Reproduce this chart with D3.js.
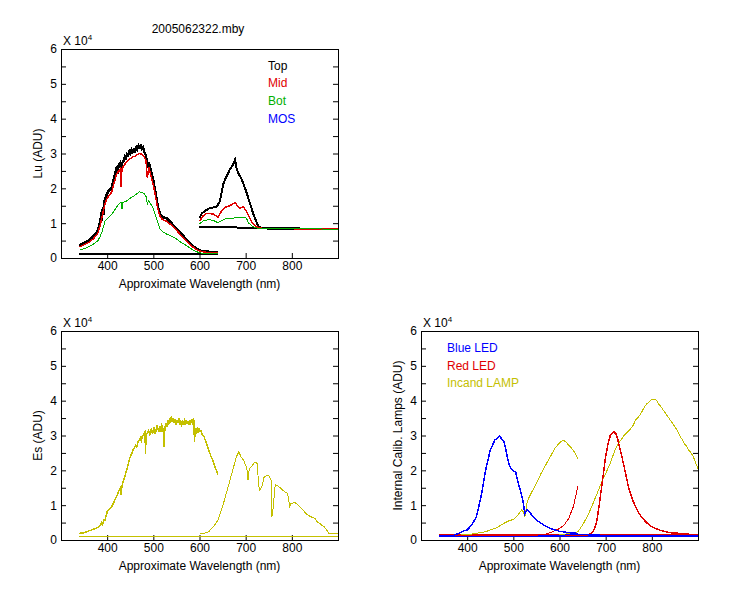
<!DOCTYPE html>
<html>
<head>
<meta charset="utf-8">
<style>
body { margin: 0; background: #fff; }
svg { font-family: "Liberation Sans", Arial, sans-serif; }
.axis .domain { display: none; }
.axis text { font-size: 12px; fill: #000; }
.axis line { stroke: #000; }
.trace { fill: none; shape-rendering: crispEdges; }
</style>
</head>
<body>
<svg width="750" height="600"></svg>
<script src="https://d3js.org/d3.v7.min.js"></script>
<script>

// ---- data (values in units of 10^4 ADU, wavelength in nm) ----
var title = "2005062322.mby";
var xTicks = [400, 500, 600, 700, 800];
var yTicks = [0, 1, 2, 3, 4, 5, 6];
var yMinor = [0.5, 1.5, 2.5, 3.5, 4.5, 5.5];

var luLegend = ["Top", "Mid", "Bot", "MOS"];
var luColors = ["#000000", "#e00000", "#00b000", "#0000ff"];

var luTop1 = [[340,.36],[345,.4],[350,.43],[355,.47],[360,.5],[365,.56],[370,.62],[375,.7],[380,.8],[383,.95],[385,1.08],[387,1.0],[388,1.3],[390,1.37],[392,1.25],[393,1.6],[395,1.66],[398,1.8],[400,1.85],[403,1.92],[405,1.95],[408,2.0],[410,2.04],[413,2.2],[415,2.3],[418,2.45],[420,2.57],[423,2.5],[425,2.65],[428,2.72],[430,2.55],[432,2.71],[435,2.78],[438,2.9],[440,2.86],[443,2.98],[445,2.95],[448,3.05],[450,3.0],[453,3.1],[455,3.05],[458,3.12],[460,3.07],[463,3.18],[465,3.12],[468,3.22],[470,3.18],[473,3.22],[475,3.14],[478,3.18],[480,3.05],[484,2.95],[487,2.6],[490,2.76],[495,2.5],[500,2.23],[505,1.85],[510,1.47],[515,1.25],[520,1.18],[525,1.15],[530,1.13],[535,1.06],[540,.99],[550,.84],[560,.7],[570,.56],[580,.41],[590,.3],[600,.22],[610,.19],[620,.18],[630,.17],[640,.17]];
var luMid1 = [[340,.32],[350,.38],[360,.45],[370,.55],[380,.72],[385,.95],[390,1.25],[395,1.55],[400,1.72],[405,1.8],[410,1.9],[415,2.15],[420,2.4],[425,2.5],[428,2.55],[430,2.05],[432,2.55],[436,2.65],[440,2.72],[445,2.8],[450,2.85],[455,2.9],[460,2.92],[465,2.97],[470,3.0],[475,2.98],[480,2.9],[484,2.8],[487,2.3],[490,2.6],[495,2.35],[500,2.1],[505,1.75],[510,1.4],[515,1.18],[520,1.1],[530,1.05],[540,.93],[550,.8],[560,.65],[570,.52],[580,.38],[590,.27],[600,.2],[610,.17],[620,.16],[640,.16]];
var luBot1 = [[340,.22],[350,.27],[360,.32],[370,.4],[380,.5],[385,.62],[390,.8],[395,1.05],[400,1.12],[410,1.25],[420,1.45],[425,1.55],[430,1.6],[432,1.4],[434,1.6],[440,1.62],[450,1.72],[460,1.8],[470,1.9],[475,1.88],[480,1.85],[485,1.75],[487,1.55],[490,1.65],[500,1.42],[505,1.2],[510,1.02],[515,.82],[520,.75],[530,.68],[540,.62],[550,.55],[560,.45],[570,.37],[580,.28],[590,.2],[600,.15],[610,.13],[640,.12]];
var luDark1 = [[340,.12],[460,.12],[640,.11]];

var luTop2 = [[600,1.15],[605,1.28],[610,1.33],[620,1.42],[630,1.45],[637,1.47],[644,1.62],[648,1.9],[652,2.14],[657,2.3],[662,2.43],[666,2.55],[670,2.62],[674,2.72],[677,2.82],[680,2.6],[684,2.43],[690,2.3],[695,2.14],[700,1.95],[706,1.71],[711,1.5],[716,1.28],[722,1.08],[727,.92],[733,.86],[740,.85],[760,.84],[800,.84],[850,.83],[900,.83]];
var luMid2 = [[600,1.05],[607,1.2],[615,1.28],[622,1.28],[630,1.26],[640,1.17],[647,1.33],[652,1.4],[658,1.47],[665,1.5],[672,1.55],[677,1.59],[682,1.5],[688,1.43],[695,1.47],[702,1.33],[708,1.18],[713,1.04],[718,.95],[723,.9],[730,.86],[750,.84],[800,.84],[900,.83]];
var luBot2 = [[600,.98],[610,1.08],[620,1.1],[630,1.08],[640,1.01],[648,1.08],[656,1.12],[665,1.14],[672,1.14],[680,1.17],[690,1.15],[699,1.17],[703,1.1],[706,1.01],[711,.95],[716,.9],[725,.86],[750,.84],[900,.83]];
var luDark2 = [[600,.9],[700,.87],[900,.83]];

var es1 = [[340,.19],[345,.2],[350,.21],[355,.23],[360,.26],[365,.28],[370,.31],[375,.33],[380,.36],[385,.42],[388,.5],[390,.45],[393,.58],[395,.57],[398,.7],[400,.81],[405,.88],[410,.96],[415,1.1],[420,1.24],[425,1.4],[428,1.48],[430,1.3],[432,1.53],[435,1.7],[438,1.8],[440,1.91],[442,2.0],[444,2.1],[446,2.2],[448,2.3],[450,2.39],[452,2.45],[454,2.5],[456,2.6],[458,2.62],[460,2.67],[462,2.72],[464,2.68],[466,2.78],[468,2.85],[470,2.87],[472,2.92],[474,2.85],[476,2.98],[478,3.0],[480,3.06],[482,3.1],[483,2.48],[484,2.9],[486,3.05],[488,3.1],[490,3.15],[492,3.0],[494,3.1],[496,3.2],[498,3.05],[500,3.15],[502,3.25],[504,3.05],[506,3.15],[508,3.3],[510,3.2],[512,3.1],[514,3.28],[516,3.1],[518,3.3],[520,3.25],[522,3.05],[523,2.67],[525,3.2],[527,3.35],[529,3.25],[531,3.45],[533,3.3],[535,3.5],[537,3.35],[539,3.55],[541,3.4],[543,3.5],[545,3.35],[547,3.48],[549,3.3],[551,3.45],[553,3.35],[555,3.5],[557,3.3],[559,3.45],[561,3.25],[563,3.45],[565,3.35],[567,3.42],[569,3.3],[571,3.45],[573,3.35],[575,3.4],[577,3.3],[579,3.45],[581,3.35],[583,3.42],[585,3.35],[587,3.5],[588,3.4],[589,2.8],[591,3.2],[593,3.1],[595,3.2],[597,3.1],[599,3.2],[601,3.12],[603,3.15],[605,3.05],[607,3.02],[610,2.96],[615,2.78],[620,2.58],[625,2.4],[630,2.24],[635,2.05],[638,1.95],[640,1.88]];
var es2 = [[600,.19],[610,.19],[620,.24],[630,.38],[640,.57],[650,.96],[660,1.43],[670,1.91],[680,2.39],[685,2.53],[690,2.39],[695,2.3],[700,2.15],[703,2.0],[705,1.72],[708,2.05],[715,2.15],[720,2.24],[725,2.2],[728,1.6],[730,1.43],[735,1.53],[740,1.81],[745,1.85],[750,1.86],[755,1.72],[757,.67],[760,.96],[763,1.5],[765,1.58],[770,1.55],[775,1.5],[780,1.43],[785,1.38],[790,1.34],[793,1.2],[795,.96],[798,1.05],[800,1.05],[805,1.08],[810,1.05],[815,.98],[820,.91],[825,.85],[830,.76],[835,.72],[840,.67],[845,.65],[850,.62],[855,.52],[860,.48],[865,.42],[870,.38],[875,.3],[880,.19],[890,.19],[900,.19]];
var esDark = [[340,.11],[900,.11]];

var lampLegend = ["Blue LED", "Red LED", "Incand LAMP"];
var lampColors = ["#0000ff", "#e00000", "#c4c000"];

var blue1 = [[340,.11],[370,.13],[385,.21],[390,.25],[400,.29],[410,.43],[420,.67],[430,1.24],[440,2.0],[450,2.58],[460,2.87],[470,2.98],[480,2.82],[490,2.2],[495,2.05],[500,1.99],[505,1.95],[510,1.67],[520,1.19],[525,.76],[530,.88],[540,.72],[550,.57],[560,.48],[570,.4],[580,.33],[590,.29],[600,.25],[620,.21],[640,.19]];
var blue2 = [[600,.14],[640,.15],[650,.17],[680,.17],[690,.13],[900,.12]];
var blueDark = [[340,.12],[900,.12]];
var red1 = [[340,.12],[500,.12],[550,.14],[560,.15],[570,.17],[580,.21],[590,.27],[600,.33],[610,.43],[620,.62],[630,.96],[640,1.55]];
var red2 = [[600,.13],[650,.13],[660,.14],[670,.2],[675,.3],[680,.5],[685,.9],[690,1.4],[695,1.9],[700,2.4],[705,2.75],[710,3.0],[715,3.08],[718,3.1],[722,3.05],[725,2.95],[730,2.67],[735,2.4],[740,2.1],[745,1.8],[750,1.48],[755,1.28],[760,1.1],[770,.81],[780,.62],[790,.48],[800,.38],[810,.32],[820,.27],[840,.21],[860,.19],[885,.16]];
var redDark = [[340,.13],[900,.13]];
var lamp1 = [[340,.12],[360,.13],[380,.14],[400,.15],[420,.19],[440,.24],[460,.33],[470,.4],[480,.48],[490,.55],[500,.59],[505,.65],[510,.72],[518,.86],[522,.8],[525,.67],[528,.9],[530,1.1],[535,1.25],[540,1.38],[550,1.62],[560,1.91],[570,2.15],[580,2.39],[590,2.63],[600,2.79],[605,2.84],[610,2.85],[615,2.8],[620,2.72],[630,2.58],[635,2.45],[640,2.34]];
var lamp2 = [[600,.15],[620,.18],[630,.2],[640,.24],[650,.43],[660,.67],[670,.96],[680,1.29],[690,1.62],[700,1.91],[710,2.2],[720,2.58],[730,2.82],[740,3.0],[750,3.13],[760,3.3],[765,3.45],[770,3.51],[775,3.6],[780,3.72],[785,3.85],[790,3.92],[795,3.98],[800,4.03],[805,4.05],[810,4.01],[815,3.9],[820,3.82],[830,3.63],[840,3.44],[850,3.25],[855,3.15],[860,3.0],[865,2.9],[870,2.77],[875,2.7],[880,2.58],[885,2.5],[890,2.39],[895,2.2],[900,2.05]];

// ---- drawing ----
var svg = d3.select("svg");

function panel(left, top, ylabel) {
  var w = 277, h = 209;
  var g = svg.append("g").attr("transform", "translate(" + left + "," + top + ")");
  var x = d3.scaleLinear().domain([300, 900]).range([0, w]);
  var y = d3.scaleLinear().domain([0, 6]).range([h, 0]);

  g.append("rect").attr("width", w).attr("height", h)
      .attr("fill", "none").attr("stroke", "#000").attr("shape-rendering", "crispEdges");

  g.append("g").attr("class", "axis")
      .attr("transform", "translate(0," + h + ")")
      .call(d3.axisBottom(x).tickValues(xTicks).tickSizeInner(-5).tickSizeOuter(0).tickPadding(3));
  g.append("g").attr("class", "axis")
      .call(d3.axisLeft(y).tickValues(yTicks).tickFormat(d3.format("d")).tickSizeInner(-5).tickSizeOuter(0).tickPadding(4));
  g.append("g").attr("class", "axis")
      .call(d3.axisLeft(y).tickValues(yMinor).tickSizeInner(-5).tickSizeOuter(0).tickFormat(""));
  g.append("g").attr("class", "axis")
      .attr("transform", "translate(" + w + ",0)")
      .call(d3.axisRight(y).tickValues(yTicks.concat(yMinor)).tickSizeInner(-5).tickSizeOuter(0).tickFormat(""));

  var ex = g.append("text").attr("x", 2).attr("y", -4).attr("font-size", "12px").text("X 10");
  ex.append("tspan").attr("font-size", "8px").attr("dy", "-5").text("4");

  g.append("text")
      .attr("x", w / 2).attr("y", h + 30)
      .attr("text-anchor", "middle").attr("font-size", "12px")
      .text("Approximate Wavelength (nm)");

  g.append("text")
      .attr("transform", "translate(" + (-19) + "," + (h / 2) + ") rotate(-90)")
      .attr("text-anchor", "middle").attr("font-size", "12px")
      .text(ylabel);

  var line = d3.line().x(function(d) { return x(d[0]); }).y(function(d) { return y(d[1]); });
  return {g: g, line: line};
}

function trace(p, data, color, width) {
  p.g.append("path").datum(data)
      .attr("class", "trace")
      .attr("stroke", color)
      .attr("stroke-width", width || 1)
      .attr("d", p.line);
}

function legend(p, labels, colors, lx, ly, step) {
  p.g.selectAll(null).data(labels).enter().append("text")
      .attr("x", lx).attr("y", function(d, i) { return ly + i * step; })
      .attr("font-size", "12px")
      .attr("fill", function(d, i) { return colors[i]; })
      .text(function(d) { return d; });
}

// panel 1: Lu
var p1 = panel(61, 49, "Lu (ADU)");
svg.append("text").attr("x", 198).attr("y", 33).attr("text-anchor", "middle")
    .attr("font-size", "12px").text(title);
trace(p1, luDark1, "#000", 2);
trace(p1, luDark2, "#000", 2);
trace(p1, luTop1, "#000", 2.5);
trace(p1, luTop2, "#000", 2);
trace(p1, luMid1, luColors[1], 1.5);
trace(p1, luMid2, luColors[1], 1.5);
trace(p1, luBot1, luColors[2], 1);
trace(p1, luBot2, luColors[2], 1);
legend(p1, luLegend, luColors, 207, 20.5, 17.7);

// panel 2: Es
var p2 = panel(61, 331, "Es (ADU)");
trace(p2, esDark, lampColors[2], 1);
trace(p2, es1, lampColors[2], 1.5);
trace(p2, es2, lampColors[2], 1);

// panel 3: lamps
var p3 = panel(421, 331, "Internal Calib. Lamps (ADU)");
trace(p3, redDark, lampColors[1], 2);
trace(p3, blueDark, lampColors[0], 2);
trace(p3, lamp1, lampColors[2], 1);
trace(p3, lamp2, lampColors[2], 1);
trace(p3, red1, lampColors[1], 1);
trace(p3, red2, lampColors[1], 1.5);
trace(p3, blue1, lampColors[0], 1.5);
trace(p3, blue2, lampColors[0], 1);
legend(p3, lampLegend, lampColors, 26, 21, 17.7);

</script>
</body>
</html>
